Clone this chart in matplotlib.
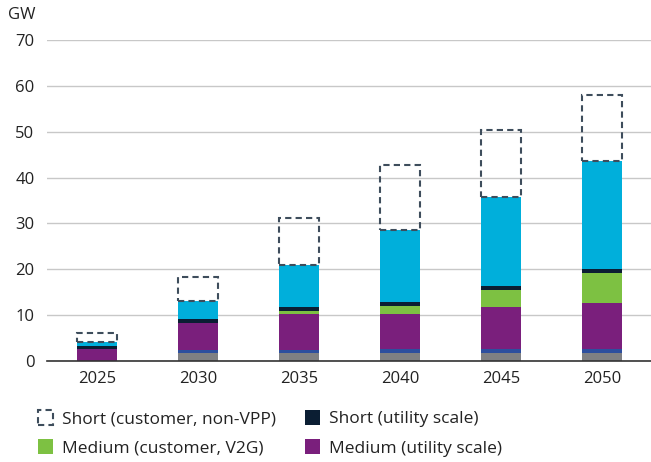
import matplotlib.pyplot as plt
import numpy as np
from matplotlib.patches import Patch

plt.rcParams['font.family'] = ['Open Sans', 'DejaVu Sans']

# Dados (GW)
anos = ['2025', '2030', '2035', '2040', '2045', '2050']
outros_cinza = [0.0, 1.7, 1.7, 1.7, 1.7, 1.7]
outros_azul = [0.0, 0.8, 0.8, 0.9, 0.9, 0.9]
medio_utility = [2.55, 5.8, 7.8, 7.6, 9.1, 9.95]
medio_v2g = [0.0, 0.0, 0.6, 1.8, 3.8, 6.7]
curto_utility = [0.7, 0.8, 0.9, 0.9, 0.9, 0.8]
curto_vpp = [0.8, 4.0, 9.2, 15.6, 19.4, 23.55]
curto_non_vpp = [2.15, 5.2, 10.2, 14.2, 14.5, 14.4]

cores = ['#7f8083', '#2d4f9e', '#7a1f7c', '#7dc142', '#0b1e33', '#00afdb']
cor_tracejado = '#3e4d5c'

fig = plt.figure(figsize=(6.51, 4.62), dpi=100)
ax = fig.add_axes([47/651, 1 - 361/462, 1 - 47/651, 321/462])

x = np.arange(len(anos))
w = 0.4
base = np.zeros(len(anos))
for serie, cor in zip([outros_cinza, outros_azul, medio_utility, medio_v2g, curto_utility, curto_vpp], cores):
    ax.bar(x, serie, w, bottom=base, color=cor, edgecolor='none', zorder=3)
    base = base + np.array(serie)

ax.bar(x, curto_non_vpp, w, bottom=base, facecolor='none', edgecolor=cor_tracejado,
       linewidth=1.5, linestyle=(0, (3, 2)), zorder=4)

ax.set_xlim(-0.495, 5.485)
ax.set_ylim(0, 70)
ax.set_yticks(range(0, 71, 10))
ax.set_xticks(x)
ax.set_xticklabels(anos)
ax.tick_params(axis='both', length=0, labelsize=12, colors='#222222')
ax.tick_params(axis='y', pad=9)
ax.tick_params(axis='x', pad=7)
ax.grid(axis='y', color='#c8c8c8', linewidth=1, zorder=0)
for s in ['top', 'right', 'left']:
    ax.spines[s].set_visible(False)
ax.spines['bottom'].set_color('#333333')
ax.spines['bottom'].set_linewidth(1.2)
ax.spines['bottom'].set_zorder(5)

fig.text(8/651, 1 - 15/462, 'GW', fontsize=12, va='center', ha='left', color='#222222')

# Legenda
h_nonvpp = Patch(facecolor='white', edgecolor=cor_tracejado, linewidth=1.5, linestyle=(0, (3, 2)))
h_curto = Patch(facecolor='#0b1e33')
h_v2g = Patch(facecolor='#7dc142')
h_medio = Patch(facecolor='#7a1f7c')
fig.legend([h_nonvpp, h_v2g, h_curto, h_medio],
           ['Short (customer, non-VPP)', 'Medium (customer, V2G)',
            'Short (utility scale)', 'Medium (utility scale)'],
           ncol=2, frameon=False, fontsize=12.5, loc='upper left',
           bbox_to_anchor=(22/651, 1 - 394/462), handlelength=0.9, handleheight=0.95,
           handletextpad=0.5, columnspacing=1.65, labelspacing=0.7, labelcolor='#222222')

fig.savefig('out.png', dpi=100)
